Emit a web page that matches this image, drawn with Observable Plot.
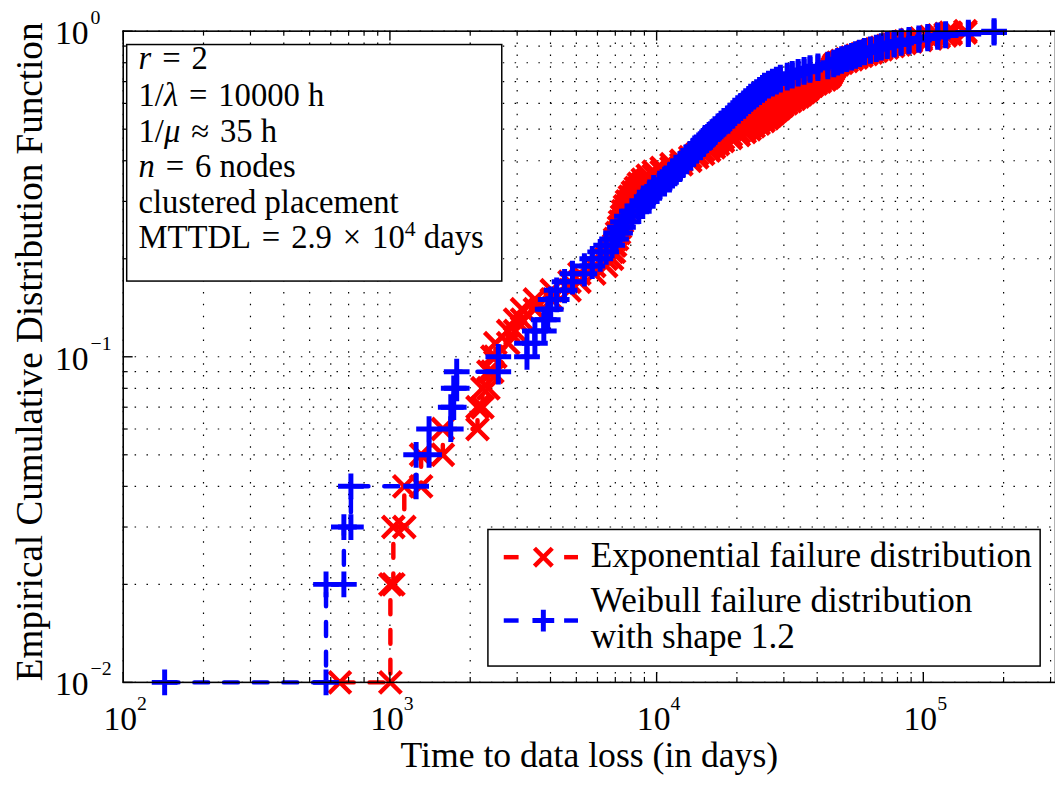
<!DOCTYPE html>
<html>
<head>
<meta charset="utf-8">
<script src="https://cdn.jsdelivr.net/npm/d3@7"></script>
<script src="https://cdn.jsdelivr.net/npm/@observablehq/plot@0.6"></script>
<style>
html, body { margin: 0; padding: 0; background: #fff; overflow: hidden; }
#wrap { width: 1055px; height: 785px; overflow: hidden; position: relative; background: #fff; }
</style>
</head>
<body>
<div id="wrap"></div>
<script>
// Empirical CDF levels (i/100)
const cdfLevels = [0.01,0.02,0.03,0.04,0.05,0.06,0.07,0.08,0.09,0.10,
  0.11,0.12,0.13,0.14,0.15,0.16,0.17,0.18,0.19,0.20,
  0.21,0.22,0.23,0.24,0.25,0.26,0.27,0.28,0.29,0.30,
  0.31,0.32,0.33,0.34,0.35,0.36,0.37,0.38,0.39,0.40,
  0.41,0.42,0.43,0.44,0.45,0.46,0.47,0.48,0.49,0.50,
  0.51,0.52,0.53,0.54,0.55,0.56,0.57,0.58,0.59,0.60,
  0.61,0.62,0.63,0.64,0.65,0.66,0.67,0.68,0.69,0.70,
  0.71,0.72,0.73,0.74,0.75,0.76,0.77,0.78,0.79,0.80,
  0.81,0.82,0.83,0.84,0.85,0.86,0.87,0.88,0.89,0.90,
  0.91,0.92,0.93,0.94,0.95,0.96,0.97,0.98,0.99,1.00];

// Sorted times to data loss (days), exponential failure distribution
const expTimes = [649,1004,1030,1132,1309,1579,2130,2223,2340,2421,
  2485,2776,2947,3129,3496,4044,4714,5135,5837,6468,
  6808,6925,6986,7105,7228,7290,7416,7479,7608,7740,
  7940,8146,8357,8574,8872,9260,9747,10440,11370,12380,
  13370,14190,14940,15730,16410,16990,17730,18980,20320,21390,
  22330,23100,24110,25160,26040,26710,27410,28120,28850,29600,
  30630,31690,32800,33930,34810,35720,36640,37280,38250,39580,
  40960,42740,43850,44610,44990,45380,45770,46150,46550,47750,
  49410,51570,53830,56180,58630,61170,63860,66650,69560,73220,
  77060,81120,85380,89890,97880,106600,114200,121200,126500,143800];

// Sorted times to data loss (days), Weibull failure distribution (shape 1.2)
const weiTimes = [143,576,672,714,1254,1402,1691,1735,1780,2549,
  3265,3496,3776,3906,4008,4219,4517,4836,5359,5738,
  6143,6468,6808,7045,7290,7479,7740,8077,8574,8872,
  9181,9419,9747,10260,10710,11170,11470,11860,12280,12590,
  12920,13370,13720,14080,14570,14940,15200,15730,16140,16550,
  16990,17430,17880,18500,18820,19310,19640,20150,20670,21210,
  21580,22140,22520,23100,23710,24320,24950,25380,26270,27180,
  28120,29100,30890,32240,33930,35720,37590,40250,43850,46150,
  47750,49410,51570,53830,55700,57640,60150,63320,66650,69560,
  73220,77740,82530,88380,96230,103900,113200,121200,147500,184200];

// Axis ticks
const xMajor = [1e2, 1e3, 1e4, 1e5];
const xExpLabels = ["2", "3", "4", "5"];
const xMinor = [200,300,400,500,600,700,800,900,
  2000,3000,4000,5000,6000,7000,8000,9000,
  20000,30000,40000,50000,60000,70000,80000,90000,
  200000,300000];
const yMajor = [0.01, 0.1, 1];
const yExpLabels = ["\u22122", "\u22121", "0"];
const yMinor = [0.02,0.03,0.04,0.05,0.06,0.07,0.08,0.09,
  0.2,0.3,0.4,0.5,0.6,0.7,0.8,0.9];

const xLabel = "Time to data loss (in days)";
const yLabel = "Empirical Cumulative Distribution Function";
const legendLabels = ["Exponential failure distribution", ["Weibull failure distribution", "with shape 1.2"]];

// stair vertices (markers on every vertex)
function stairs(times, levels) {
  const out = [];
  for (let i = 0; i < times.length; i++) {
    out.push({t: times[i], F: levels[i]});
    if (i + 1 < times.length) out.push({t: times[i + 1], F: levels[i]});
  }
  return out;
}
const expVerts = stairs(expTimes, cdfLevels);
const weiVerts = stairs(weiTimes, cdfLevels);

const plusSym = {draw(ctx, size) { const r = Math.sqrt(size / Math.PI); ctx.moveTo(-r, 0); ctx.lineTo(r, 0); ctx.moveTo(0, -r); ctx.lineTo(0, r); }};
const timesSym = {draw(ctx, size) { const r = Math.sqrt(size / Math.PI); ctx.moveTo(-r, -r); ctx.lineTo(r, r); ctx.moveTo(-r, r); ctx.lineTo(r, -r); }};

const W = 1066, H = 785, mL = 124, mT = 31, mB = 96, mR = 0;
const frameW = W - mL - mR, frameH = H - mT - mB;
const FONT = "'Liberation Serif', 'Times New Roman', serif";
const RED = "#ff0000", BLUE = "#0000ff";
const grid = {stroke: "#000", strokeWidth: 1.2, strokeDasharray: "1.5,10.5"};

const chart = Plot.plot({
  width: W, height: H,
  marginLeft: mL, marginRight: mR, marginTop: mT, marginBottom: mB,
  x: {type: "log", domain: [100, 313000], axis: null},
  y: {type: "log", domain: [0.01, 1], axis: null},
  style: {background: "#fff", fontFamily: FONT, color: "#000"},
  marks: [
    Plot.ruleX(xMinor.concat(xMajor), {x: d => d, ...grid}),
    Plot.ruleY(yMinor.concat(yMajor), {y: d => d, ...grid}),
    Plot.line(expVerts, {x: "t", y: "F", stroke: RED, strokeWidth: 4.5, strokeDasharray: "14,16"}),
    Plot.dot(expVerts, {x: "t", y: "F", symbol: timesSym, r: 11, fill: "none", stroke: RED, strokeWidth: 4.5}),
    Plot.line(weiVerts, {x: "t", y: "F", stroke: BLUE, strokeWidth: 4.5, strokeDasharray: "14,16"}),
    Plot.dot(weiVerts, {x: "t", y: "F", symbol: plusSym, r: 13, fill: "none", stroke: BLUE, strokeWidth: 5}),
    Plot.frame({stroke: "#000", strokeWidth: 1.6}),
    // ticks (inward) bottom / top
    Plot.tickX(xMajor, {x: d => d, insetTop: frameH - 10, stroke: "#000", strokeWidth: 1.4}),
    Plot.tickX(xMajor, {x: d => d, insetBottom: frameH - 10, stroke: "#000", strokeWidth: 1.4}),
    Plot.tickX(xMinor, {x: d => d, insetTop: frameH - 5, stroke: "#000", strokeWidth: 1.2}),
    Plot.tickX(xMinor, {x: d => d, insetBottom: frameH - 5, stroke: "#000", strokeWidth: 1.2}),
    // ticks left
    Plot.tickY(yMajor, {y: d => d, insetRight: frameW - 10, stroke: "#000", strokeWidth: 1.4}),
    Plot.tickY(yMinor, {y: d => d, insetRight: frameW - 5, stroke: "#000", strokeWidth: 1.2}),
    // x tick labels 10^k
    Plot.text(xMajor, {x: d => d, frameAnchor: "bottom", text: () => "10", textAnchor: "end", lineAnchor: "bottom", dx: 14, dy: 48, fontSize: 34, fill: "#000"}),
    Plot.text(xMajor, {x: d => d, frameAnchor: "bottom", text: (d, i) => xExpLabels[i], textAnchor: "start", lineAnchor: "bottom", dx: 14, dy: 28, fontSize: 20, fill: "#000"}),
    // y tick labels 10^k
    Plot.text(yMajor, {y: d => d, frameAnchor: "left", text: () => "10", textAnchor: "start", lineAnchor: "bottom", dx: -69, dy: 13, fontSize: 34, fill: "#000"}),
    Plot.text(yMajor, {y: d => d, frameAnchor: "left", text: (d, i) => yExpLabels[i], textAnchor: "start", lineAnchor: "bottom", dx: -33, dy: -7, fontSize: 20, fill: "#000"}),
    // axis titles
    Plot.text([xLabel], {frameAnchor: "bottom", text: d => d, textAnchor: "middle", lineAnchor: "bottom", dy: 86, fontSize: 36, fill: "#000"}),
    Plot.text([yLabel], {frameAnchor: "left", text: d => d, rotate: -90, textAnchor: "middle", lineAnchor: "bottom", dx: -82, dy: -5, fontSize: 37.5, fill: "#000"})
  ]
});
document.getElementById("wrap").appendChild(chart);

// Annotation box
const svg = d3.select(chart);
const box = svg.append("g").attr("font-family", FONT).attr("fill", "#000").attr("text-anchor", "start");
box.append("rect").attr("x", 128).attr("y", 45).attr("width", 379).attr("height", 239)
  .attr("fill", "#fff").attr("stroke", "#000").attr("stroke-width", 1.5);
const S = "\u2004"; // math spacing
const infoLines = [
  [["r", true], [S + "=" + S + "2", false]],
  [["1/", false], ["\u03bb", true], [S + "=" + S + "10000 h", false]],
  [["1/", false], ["\u03bc", true], [S + "\u2248" + S + "35 h", false]],
  [["n", true], [S + "=" + S + "6 nodes", false]],
  [["clustered placement", false]],
  [["MTTDL" + S + "=" + S + "2.9" + S + "\u00d7" + S + "10", false], ["4", "sup"], [" days", "after"]]
];
const baselines = [70, 107, 143, 179, 215, 251];
infoLines.forEach((parts, k) => {
  const t = box.append("text").attr("x", 140).attr("y", baselines[k]).attr("font-size", 33).attr("text-anchor", "start");
  parts.forEach(([s, kind]) => {
    const sp = t.append("tspan").text(s);
    if (kind === "sup") sp.attr("dy", -13).attr("font-size", 22);
    else if (kind === "after") sp.attr("dy", 13);
    else if (kind === true) sp.attr("font-style", "italic");
  });
});

// Legend
const lg = svg.append("g").attr("font-family", FONT).attr("text-anchor", "start");
lg.append("rect").attr("x", 493).attr("y", 535).attr("width", 558).attr("height", 138)
  .attr("fill", "#fff").attr("stroke", "#000").attr("stroke-width", 1.5);
const legendRows = [{y: 563, color: RED, sym: "times"}, {y: 627, color: BLUE, sym: "plus"}];
legendRows.forEach(row => {
  [[509, 524], [570, 584]].forEach(([a, b]) => {
    lg.append("line").attr("x1", a).attr("x2", b).attr("y1", row.y).attr("y2", row.y)
      .attr("stroke", row.color).attr("stroke-width", 4.5);
  });
  const cx = 549, r = row.sym === "times" ? 9 : 11;
  const p = row.sym === "times"
    ? `M${cx - r},${row.y - r}L${cx + r},${row.y + r}M${cx - r},${row.y + r}L${cx + r},${row.y - r}`
    : `M${cx - r},${row.y}L${cx + r},${row.y}M${cx},${row.y - r}L${cx},${row.y + r}`;
  lg.append("path").attr("d", p).attr("fill", "none").attr("stroke", row.color).attr("stroke-width", row.sym === "times" ? 4.5 : 5);
});
[[legendLabels[0], 573], [legendLabels[1][0], 618], [legendLabels[1][1], 655]].forEach(([s, y]) => {
  lg.append("text").attr("x", 597).attr("y", y).attr("font-size", 35.5).attr("fill", "#000").attr("text-anchor", "start").text(s);
});
</script>
</body>
</html>
